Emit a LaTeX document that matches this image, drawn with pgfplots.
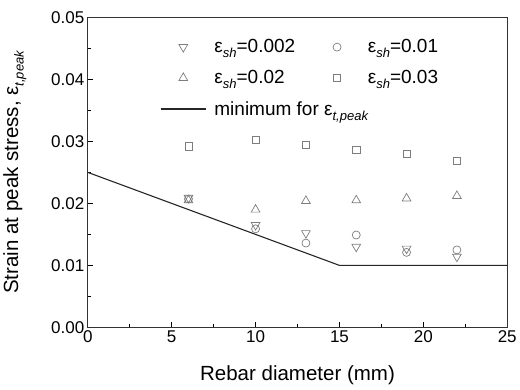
\documentclass[border=0pt]{standalone}
\usepackage{fontspec}
\setmainfont{Liberation Sans}
\usepackage{pgfplots}
\pgfplotsset{compat=1.18}
\definecolor{mk}{RGB}{125,125,125}
\newcommand{\eps}[1]{ε\raisebox{-0.5ex}{\fontsize{13}{13}\selectfont\itshape #1}}
\begin{document}
\begin{tikzpicture}
\begin{axis}[
  scale only axis,
  width=418bp, height=309bp,
  xmin=0, xmax=25, ymin=0, ymax=0.05,
  xtick={0,5,...,25}, ytick={0,0.01,...,0.05},
  minor x tick num=1, minor y tick num=1,
  tick pos=left, tick align=inside,
  major tick length=5bp, minor tick length=3bp,
  every tick/.style={black, line width=0.8pt},
  axis line style={line width=0.9pt, black!80},
  /pgf/number format/assume math mode=true,
  yticklabel style={/pgf/number format/.cd, fixed, fixed zerofill, precision=2},
  ticklabel style={font=\fontsize{17}{20}\selectfont},
  scaled y ticks=false,
  xlabel={Rebar diameter (mm)},
  ylabel={Strain at peak stress, \eps{t,peak}},
  label style={font=\fontsize{20.5}{24}\selectfont},
  xlabel style={yshift=-16bp},
  ylabel style={yshift=18bp},
  legend columns=2,
  legend cell align=left,
  legend style={draw=none, fill=none, font=\fontsize{19}{22}\selectfont,
    at={(0.172,0.935)}, anchor=north west, row sep=12bp, inner sep=0pt,
    /tikz/every even column/.append style={column sep=17bp}},
  legend image code/.code={\path (0bp,-1bp) (51bp,1bp); \draw[mark repeat=2,mark phase=2,#1] plot coordinates {(0bp,0bp)(22.5bp,0bp)(45bp,0bp)};},
]
\addplot[only marks, mark=triangle, mark options={rotate=180, mk, line width=0.7pt}, mark size=5bp, mk] coordinates {
(6,0.0209) (10,0.0165) (13,0.0152) (16,0.0130) (19,0.0127) (22,0.0114)};
\addlegendentry{\eps{sh}=0.002}
\addplot[only marks, mark=o, mark options={mk, line width=0.7pt}, mark size=4bp, mk] coordinates {
(6,0.0207) (10,0.0159) (13,0.0136) (16,0.0149) (19,0.0121) (22,0.0125)};
\addlegendentry{\eps{sh}=0.01}
\addplot[only marks, mark=triangle, mark options={mk, line width=0.7pt}, mark size=5bp, mk] coordinates {
(6,0.0205) (10,0.0190) (13,0.0204) (16,0.0205) (19,0.0208) (22,0.0212)};
\addlegendentry{\eps{sh}=0.02}
\addplot[only marks, mark=square, mark options={mk, line width=0.7pt}, mark size=3.6bp, mk] coordinates {
(6,0.0292) (10,0.0303) (13,0.0294) (16,0.0286) (19,0.0280) (22,0.0268)};
\addlegendentry{\eps{sh}=0.03}
\addplot[black!85, line width=1.1pt] coordinates {(0,0.025) (15,0.010) (25,0.010)};
\addlegendentry{\rlap{minimum for \eps{t,peak}}}
\end{axis}
\path ([yshift=8bp]current bounding box.north) -- ([yshift=-1bp]current bounding box.south);
\end{tikzpicture}
\end{document}
